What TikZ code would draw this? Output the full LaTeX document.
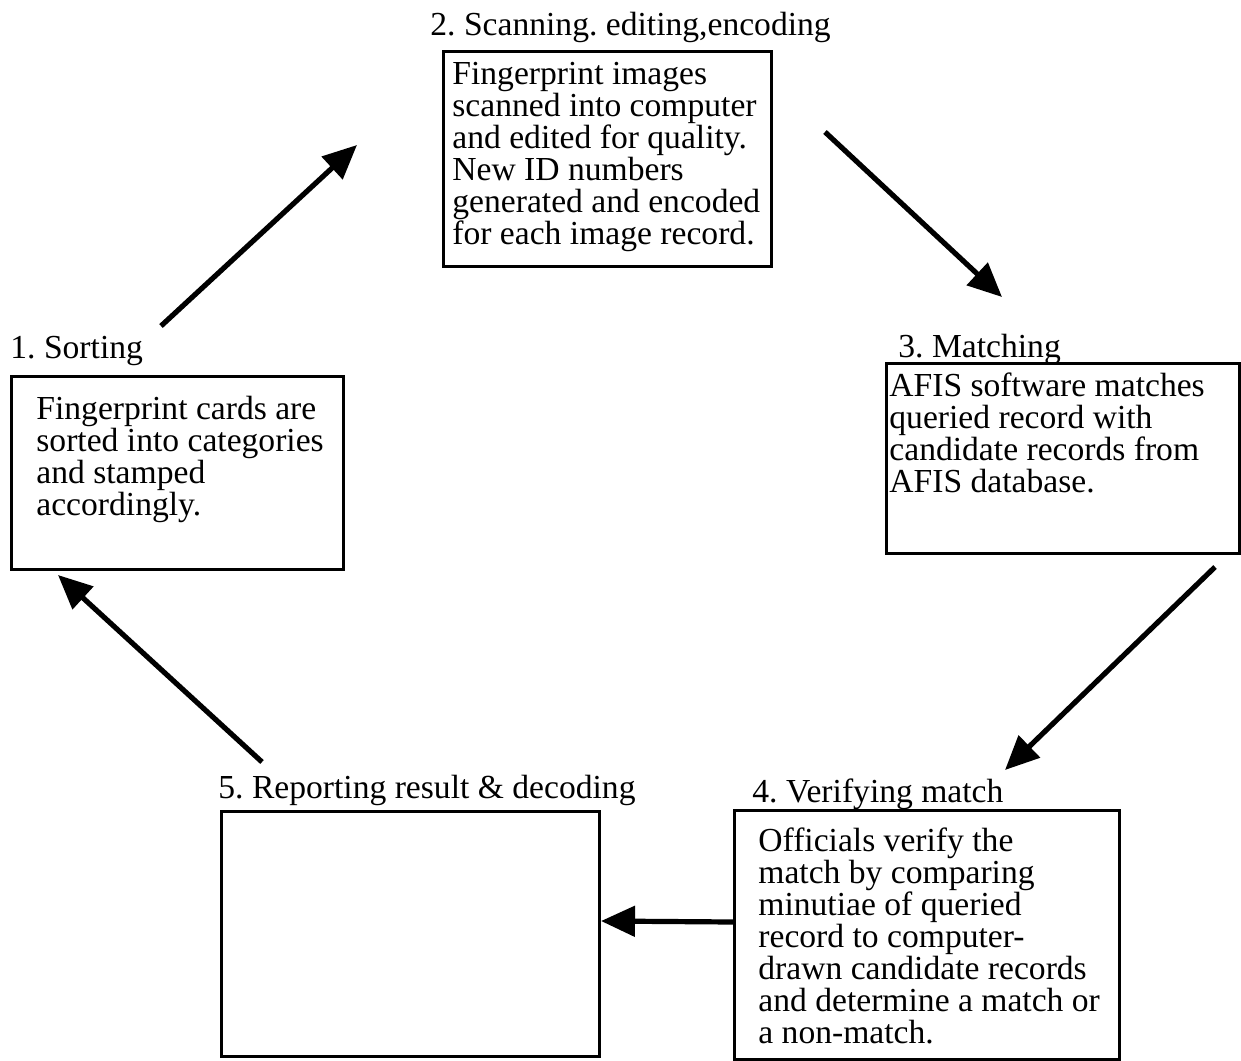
\documentclass[tikz,border=0pt]{standalone}
\usepackage{fontspec}
\setmainfont{Liberation Serif}
\usetikzlibrary{arrows.meta}

\newcommand{\stagefont}{\frenchspacing\fontsize{16.8pt}{16pt}\selectfont}

\tikzset{
  stage/.style={draw, line width=1.5pt, anchor=north west, inner sep=0pt},
  caption/.style={anchor=base west, inner sep=0pt, font=\stagefont},
  desc/.style={anchor=north west, inner sep=0pt, align=left, font=\stagefont},
  flow/.style={line width=2.6pt, -{Triangle[length=17pt,width=15pt]}}
}

\begin{document}
\begin{tikzpicture}[x=0.5pt, y=-0.5pt]
\useasboundingbox (0,0) rectangle (1241,1060);

% The five stage boxes
\node[stage, minimum width=166pt, minimum height=96.5pt] (sort) at (10,375) {};
\node[stage, minimum width=164pt, minimum height=107.5pt] (scan) at (442,50) {};
\node[stage, minimum width=176.5pt, minimum height=95pt] (match) at (885,362) {};
\node[stage, minimum width=192.5pt, minimum height=124.5pt] (verify) at (733,809) {};
\node[stage, minimum width=189pt, minimum height=122.5pt] (report) at (220,810) {};

% Stage titles
\node[caption] (sorttitle) at (10,358) {1. Sorting};
\node[caption] (scantitle) at (430,35) {2. Scanning. editing,encoding};
\node[caption] (matchtitle) at (898,357) {3. Matching};
\node[caption] (verifytitle) at (752,802) {4. Verifying match};
\node[caption] (reporttitle) at (218,798) {5. Reporting result \& decoding};

% What happens in each stage
\node[desc] (sorttext) at (36,396) {Fingerprint cards are\\sorted into categories\\and stamped\\accordingly.};
\node[desc] (scantext) at (452,62) {Fingerprint images\\scanned into computer\\and edited for quality.\\New ID numbers\\generated and encoded\\for each image record.};
\node[desc] (matchtext) at (889,372) {AFIS software matches\\queried record with\\candidate records from\\AFIS database.};
\node[desc] (verifytext) at (758,827) {Officials verify the\\match by comparing\\minutiae of queried\\record to computer-\\drawn candidate records\\and determine a match or\\a non-match.};

% Arrow ends
\coordinate (sortout) at (161,326);
\coordinate (scanin) at (357,145);
\coordinate (scanout) at (825,132);
\coordinate (matchin) at (1002,297);
\coordinate (matchout) at (1215,567);
\coordinate (verifyin) at (1005,770);
\coordinate (reportout) at (262,762);
\coordinate (sortin) at (58,575);

% The cycle
\draw[flow] (sortout) -- (scanin);
\draw[flow] (scanout) -- (matchin);
\draw[flow] (matchout) -- (verifyin);
\draw[flow] ([yshift=6.5pt]verify.west) -- ([yshift=6.5pt]report.east);
\draw[flow] (reportout) -- (sortin);

\end{tikzpicture}
\end{document}
